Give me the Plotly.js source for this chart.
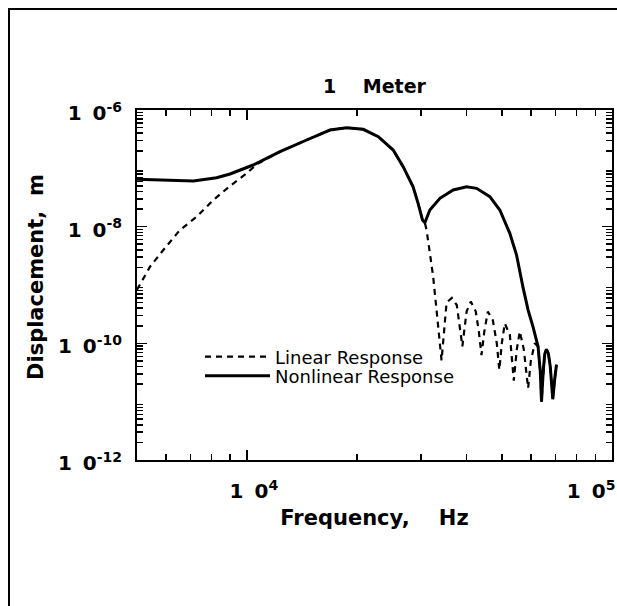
<!DOCTYPE html>
<html>
<head>
<meta charset="utf-8">
<script src="https://cdn.plot.ly/plotly-3.0.1.min.js"></script>
<style>
  html, body { margin: 0; padding: 0; background: #fff; }
  #chart { width: 617px; height: 606px; }
</style>
</head>
<body>
<div id="chart"></div>
<script>
// ---- Data ----
const freqLinear = [5000, 5428, 5902, 6556, 7286, 8088, 8990, 9984, 10630, 12320, 14580, 16880, 18750, 20820, 22900, 25160, 26790, 28520, 29440, 30270, 30720, 31050, 31700, 32370, 33070, 33610, 34130, 35230, 36420, 37580, 38300, 38920, 39970, 41040, 42360, 43170, 43910, 44700, 45700, 47160, 48360, 49130, 49910, 50860, 52500, 53830, 54860, 55900, 57330, 58920, 59930, 61440, 62750, 63630, 64110, 64830, 65450, 66140, 66910, 67760, 68830, 69700, 70450];
const dispLinear = [8.3e-10, 2.06e-9, 3.98e-9, 8.77e-9, 1.48e-8, 2.86e-8, 4.98e-8, 8.2e-8, 1.17e-7, 1.93e-7, 3.06e-7, 4.54e-7, 4.98e-7, 4.67e-7, 3.49e-7, 2.06e-7, 1.07e-7, 4.84e-8, 2.51e-8, 1.30e-8, 1.17e-8, 8.77e-9, 3.55e-9, 1.39e-9, 3.7e-10, 1.15e-10, 5.1e-11, 5.0e-10, 6.0e-10, 4.5e-10, 2.0e-10, 8.9e-11, 3.5e-10, 5.2e-10, 3.5e-10, 1.6e-10, 6.3e-11, 1.6e-10, 3.5e-10, 2.5e-10, 1.0e-10, 3.5e-11, 1.0e-10, 2.2e-10, 1.4e-10, 2.3e-11, 7.9e-11, 1.6e-10, 7.9e-11, 1.7e-11, 5.0e-11, 1.0e-10, 8.7e-11, 3.2e-11, 1.0e-11, 3.5e-11, 6.6e-11, 7.9e-11, 6.8e-11, 4.0e-11, 1.1e-11, 2.5e-11, 4.3e-11];

const freqNonlinear = [5000, 5900, 7130, 8260, 8990, 10400, 12320, 14580, 16880, 18750, 20820, 22900, 25160, 26790, 28520, 29440, 30270, 30720, 31700, 33780, 36730, 39970, 42560, 46280, 49290, 52500, 54760, 57090, 58920, 60800, 62750, 63630, 64110, 64830, 65450, 66140, 66910, 67760, 68830, 69700, 70450];
const dispNonlinear = [6.49e-8, 6.3e-8, 6.07e-8, 6.92e-8, 8.0e-8, 1.14e-7, 1.93e-7, 3.06e-7, 4.54e-7, 4.98e-7, 4.67e-7, 3.49e-7, 2.06e-7, 1.07e-7, 4.84e-8, 2.51e-8, 1.30e-8, 1.17e-8, 1.93e-8, 3.06e-8, 4.26e-8, 4.85e-8, 4.54e-8, 3.27e-8, 1.93e-8, 7.69e-9, 3.3e-9, 8.9e-10, 3.7e-10, 1.9e-10, 8.7e-11, 3.2e-11, 1.0e-11, 3.5e-11, 6.6e-11, 7.9e-11, 6.8e-11, 4.0e-11, 1.1e-11, 2.5e-11, 4.3e-11];

const seriesNames = ['Linear Response', 'Nonlinear Response'];

// Tick values and labels
const xTickVals = [1e4, 1e5];
const xTickText = ['\u00A0\u00A01\u00A0\u20090<sup>4</sup>', '1\u00A0\u20090<sup>5</sup>\u00A0\u00A0\u00A0\u00A0\u00A0\u00A0'];
const yTickVals = [1e-12, 1e-10, 1e-8, 1e-6];
const yTickText = ['1\u00A0\u20090<sup>-12</sup>', '1\u00A0\u20090<sup>-10</sup>', '1\u00A0\u20090<sup>-8</sup>', '1\u00A0\u20090<sup>-6</sup>'];
const yOddDecades = [1e-11, 1e-9, 1e-7];
const xMinorVals = [6000, 7000, 8000, 9000, 20000, 30000, 40000, 50000, 60000, 70000, 80000, 90000];
const yMinorVals = [];
for (let e = -12; e < -6; e++) { for (let k = 2; k <= 9; k++) yMinorVals.push(k * Math.pow(10, e)); }

const titleText = '1\u00A0\u00A0\u00A0\u00A0Meter';
const xTitle = 'Frequency,\u00A0\u00A0\u00A0\u00A0Hz';
const yTitle = 'Displacement,\u00A0\u00A0m';

// ---- Layout geometry ----
const W = 617, H = 606;
const L = 137, R = 5, T = 110, B = 146;
const pw = W - L - R, ph = H - T - B;
const px2x = p => (p - L) / pw;
const py2y = p => (H - B - p) / ph;

const FONT = 'DejaVu Sans';
const boldFont = (s) => ({family: FONT, size: s, color: '#000', weight: 'bold'});

const traces = [
  {x: freqLinear, y: dispLinear, name: seriesNames[0], type: 'scatter', mode: 'lines',
   line: {color: '#000', width: 2.2, dash: '6px,5px'}, legend: 'legend'},
  {x: freqNonlinear, y: dispNonlinear, name: seriesNames[1], type: 'scatter', mode: 'lines',
   line: {color: '#000', width: 3}, legend: 'legend2'}
];

const axisCommon = {
  type: 'log', showgrid: false, zeroline: false,
  showline: true, linecolor: '#000', linewidth: 2, mirror: 'ticks',
  ticks: 'inside', ticklen: 10, tickwidth: 1.5, tickcolor: '#000',
  tickmode: 'array', tickfont: boldFont(20), ticklabeloverflow: 'allow'
};

const legendCommon = {
  xanchor: 'left', yanchor: 'middle', bgcolor: 'rgba(0,0,0,0)', borderwidth: 0,
  font: {family: FONT, size: 18, color: '#000'}, itemwidth: 65
};

const layout = {
  width: W, height: H,
  margin: {l: L, r: R, t: T, b: B},
  paper_bgcolor: '#fff', plot_bgcolor: '#fff',
  showlegend: true,
  title: {text: titleText, font: boldFont(19), x: 0.5, xref: 'paper', xanchor: 'center',
          y: 1 - 86 / H, yref: 'container', yanchor: 'middle'},
  xaxis: Object.assign({}, axisCommon, {
    range: [Math.log10(5000), 5], tickvals: xTickVals, ticktext: xTickText,
    ticklabelstandoff: 12,
    minor: {tickmode: 'array', tickvals: xMinorVals, ticks: 'inside', ticklen: 6, tickwidth: 1.5, tickcolor: '#000'},
    title: {text: xTitle, font: boldFont(21), standoff: 8}
  }),
  yaxis: Object.assign({}, axisCommon, {
    range: [-12, -6], tickvals: yTickVals, ticktext: yTickText,
    ticklabelstandoff: 9, ticklabelshift: 3,
    minor: {tickmode: 'array', tickvals: yMinorVals, ticks: 'inside', ticklen: 6, tickwidth: 1.5, tickcolor: '#000'}
  }),
  // tick-only overlay axis for the unlabelled odd decades (full-length ticks)
  yaxis2: {
    overlaying: 'y', anchor: 'x', side: 'left', type: 'log', range: [-12, -6],
    tickmode: 'array', tickvals: yOddDecades, showticklabels: false,
    ticks: 'inside', ticklen: 10, tickwidth: 1.5, tickcolor: '#000',
    showline: false, showgrid: false, zeroline: false, mirror: 'ticks'
  },
  annotations: [
    {text: yTitle, xref: 'paper', yref: 'paper', x: px2x(36), y: py2y(277),
     xanchor: 'center', yanchor: 'middle', textangle: -90, showarrow: false,
     font: boldFont(21)}
  ],
  legend: Object.assign({}, legendCommon, {x: px2x(200), y: py2y(357)}),
  legend2: Object.assign({}, legendCommon, {x: px2x(200), y: py2y(376)}),
  shapes: [
    {type: 'rect', xref: 'paper', yref: 'paper', x0: px2x(9), x1: px2x(640), y0: py2y(640), y1: py2y(9),
     line: {color: '#000', width: 2}, fillcolor: 'rgba(0,0,0,0)', layer: 'above'}
  ]
};

Plotly.newPlot('chart', traces, layout, {staticPlot: true, displayModeBar: false});
</script>
</body>
</html>
